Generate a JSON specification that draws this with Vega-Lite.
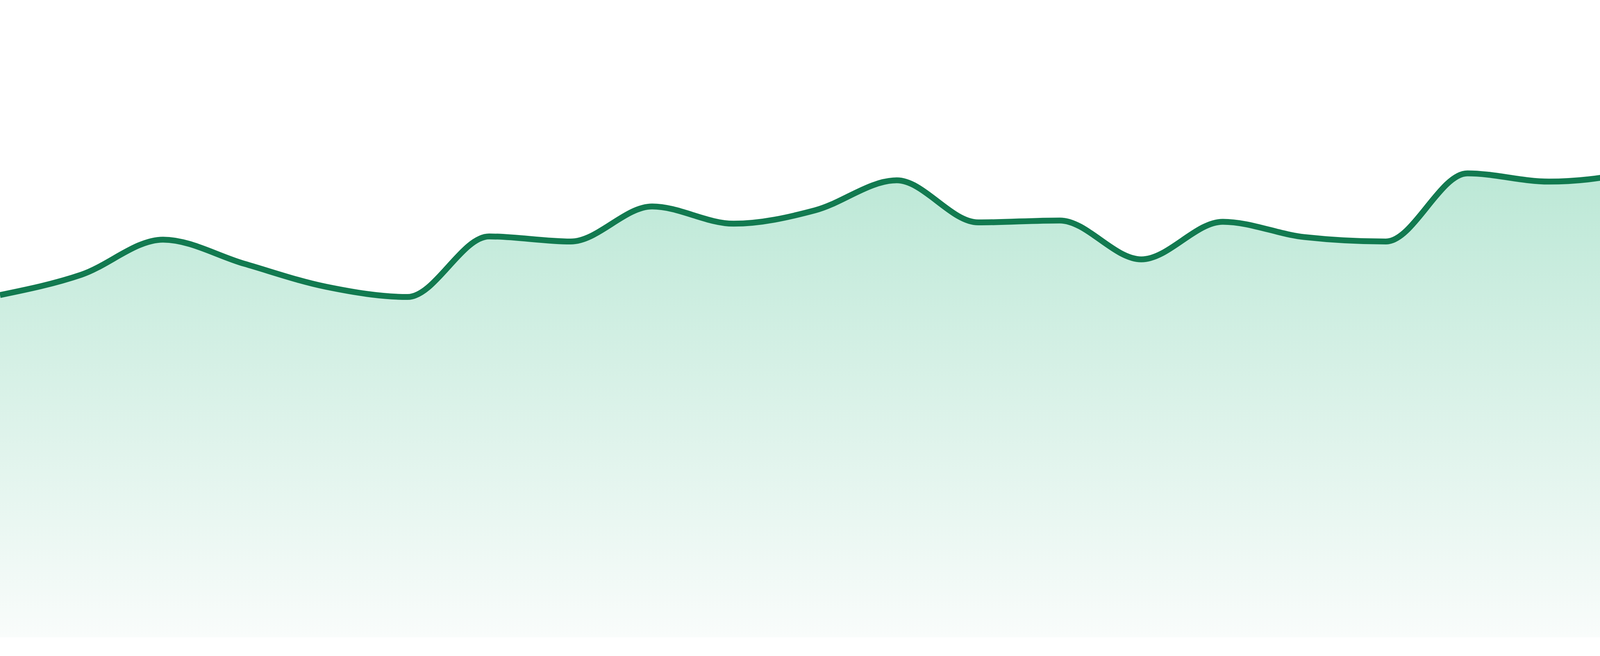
{
  "$schema": "https://vega.github.io/schema/vega-lite/v6.json",
  "description": "Hourly area trend with gradient fill",
  "width": 4800,
  "height": 1632,
  "padding": 0,
  "autosize": {"type": "none"},
  "background": "white",
  "data": {
    "values": [
      {"hour": 0, "value": 53.7},
      {"hour": 1, "value": 56.9},
      {"hour": 2, "value": 62.4},
      {"hour": 3, "value": 58.6},
      {"hour": 4, "value": 55.0},
      {"hour": 5, "value": 53.4},
      {"hour": 6, "value": 62.9},
      {"hour": 7, "value": 62.1},
      {"hour": 8, "value": 67.6},
      {"hour": 9, "value": 64.9},
      {"hour": 10, "value": 67.0},
      {"hour": 11, "value": 71.7},
      {"hour": 12, "value": 65.1},
      {"hour": 13, "value": 65.4},
      {"hour": 14, "value": 59.3},
      {"hour": 15, "value": 65.2},
      {"hour": 16, "value": 62.8},
      {"hour": 17, "value": 62.1},
      {"hour": 18, "value": 72.8},
      {"hour": 19, "value": 71.5},
      {"hour": 20, "value": 73.0},
      {"hour": 21, "value": 80.3},
      {"hour": 22, "value": 87.5},
      {"hour": 23, "value": 85.4}
    ]
  },
  "encoding": {
    "x": {
      "field": "hour",
      "type": "quantitative",
      "scale": {"domain": [0, 23], "nice": false},
      "axis": null
    },
    "y": {
      "field": "value",
      "type": "quantitative",
      "scale": {"domain": [0, 100], "nice": false, "zero": true},
      "axis": null
    }
  },
  "layer": [
    {
      "mark": {
        "type": "area",
        "interpolate": "monotone",
        "color": {
          "gradient": "linear",
          "x1": 0,
          "y1": 0,
          "x2": 0,
          "y2": 1,
          "stops": [
            {"offset": 0, "color": "#b0e4cf"},
            {"offset": 1, "color": "#f9fcfb"}
          ]
        }
      }
    },
    {
      "mark": {
        "type": "line",
        "interpolate": "monotone",
        "color": "#127a50",
        "strokeWidth": 15
      }
    }
  ],
  "config": {"view": {"stroke": null}}
}
